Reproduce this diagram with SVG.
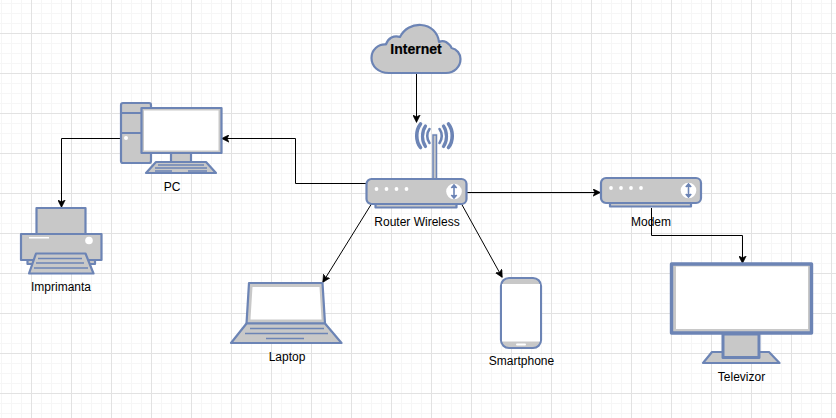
<svg xmlns="http://www.w3.org/2000/svg" width="836" height="418" viewBox="0 0 836 418">
<style>
.s{fill:#c8c8c8;stroke:#6c84b5;stroke-width:2.2;stroke-linejoin:round}
.w{fill:#fff;stroke:none}
.l{fill:none;stroke:#6c84b5;stroke-width:1.6}
.d{fill:#fff;stroke:none}
.c{fill:none;stroke:#000;stroke-width:1}
text{font-family:"Liberation Sans",Arial,sans-serif;font-size:12px;fill:#000;text-anchor:middle}
</style>
<defs>
<pattern id="minor" width="10" height="10" patternUnits="userSpaceOnUse" x="1" y="3">
<path d="M0.5 0V10M0 0.5H10" fill="none" stroke="#f6f6f6" stroke-width="1"/>
</pattern>
<pattern id="major" width="40" height="40" patternUnits="userSpaceOnUse" x="31" y="33">
<path d="M0.5 0V40M0 0.5H40" fill="none" stroke="#e2e2e2" stroke-width="1"/>
</pattern>
<marker id="a" markerWidth="8" markerHeight="8" refX="7" refY="4" orient="auto" markerUnits="userSpaceOnUse">
<path d="M0 0.3L7.5 4L0 7.7L1.8 4Z" fill="#000" stroke="#000" stroke-width="0.6"/>
</marker>
<g id="box">
<rect class="s" x="9.5" y="20" width="81" height="9"/>
<rect class="s" x="0.5" y="0.500" width="100" height="25" rx="5"/>
<circle class="d" cx="10.500" cy="10.500" r="1.900"/><circle class="d" cx="20.500" cy="10.500" r="1.900"/><circle class="d" cx="30.500" cy="10.500" r="1.900"/><circle class="d" cx="40.500" cy="10.500" r="1.900"/>
<circle class="d" cx="88" cy="13" r="7.800"/>
<path d="M88 6.500V19.500M85.300 9.500L88 6.500L90.700 9.500M85.300 16.500L88 19.500L90.700 16.500" fill="#6c84b5" stroke="#6c84b5" stroke-width="1.600"/>
</g>
</defs>
<rect width="836" height="418" fill="#fff"/>
<rect width="836" height="418" fill="url(#minor)"/>
<rect width="836" height="418" fill="url(#major)"/>

<g id="connectors">
<path class="c" marker-end="url(#a)" d="M416.500 73V122"/>
<path class="c" marker-end="url(#a)" d="M366 183.500H295.500V138.500H222"/>
<path class="c" marker-end="url(#a)" d="M121 138.500H61.500V207"/>
<path class="c" marker-end="url(#a)" d="M466 192.500H600"/>
<path class="c" marker-end="url(#a)" d="M372 203L323 282"/>
<path class="c" marker-end="url(#a)" d="M461 203L502 277"/>
<path class="c" marker-end="url(#a)" d="M651.500 208V235.500H742.500V263"/>
</g>

<g id="internet">
<path class="s" d="M389 73C378 73 371.500 66 371.500 58C371.500 50 378 44 386 44.500C388 38 394 35 400 37C404 29 412 24.500 421 25C431 25.500 438 33 439 42C441 41 444 41 446 42C449 44 451 46 451.500 48C457 49 460.500 54 460.500 59C460.500 67 454 73 446 73Z"/>
<text x="416" y="54" style="font-size:14px;font-weight:bold;stroke:#000;stroke-width:0.2">Internet</text>
</g>

<g id="router">
<rect x="433" y="135" width="3.500" height="44" fill="#c8c8c8" stroke="#6c84b5" stroke-width="1.500"/>
<g fill="none" stroke="#6c84b5" stroke-linecap="round">
<path d="M429.500 129C426.500 133 426.500 139 429.500 143M439.500 129C442.500 133 442.500 139 439.500 143" stroke-width="2.600"/>
<path d="M425.500 126C421.500 132 421.500 141 425.500 146.500M443.500 126C447.500 132 447.500 141 443.500 146.500" stroke-width="3.200"/>
<path d="M420.500 124C415.500 130.500 415.500 141 420.500 147.500M448.500 124C453.500 130.500 453.500 141 448.500 147.500" stroke-width="3.600"/>
</g>
<use href="#box" x="366" y="178.500"/>
<text x="417" y="226">Router Wireless</text>
</g>

<g id="pc">
<rect class="s" x="121" y="103" width="30" height="60" rx="2"/>
<path class="l" d="M121 113H151M121 133H151" style="stroke-width:2"/>
<circle class="d" cx="126" cy="138" r="2"/>
<rect class="s" x="171" y="153" width="20" height="9"/>
<path class="s" d="M156 162H206L216 173H146Z"/>
<path class="l" d="M158 165H204M155 168H207M155 171H172M188 171H207" style="stroke-width:1.400"/>
<rect class="s" x="141.500" y="108" width="80" height="45"/>
<rect class="w" x="144" y="110.500" width="74.500" height="40"/>
<text x="172" y="191">PC</text>
</g>

<g id="printer">
<rect class="s" x="36.500" y="208" width="49" height="26"/>
<path class="s" d="M27.500 258H95V264H27.500Z"/>
<rect class="s" x="21" y="234" width="80.500" height="26"/>
<rect class="d" x="29" y="237" width="20" height="1.500"/>
<circle class="d" cx="89" cy="240.500" r="3.800"/>
<path class="s" d="M36 253.500H85.500L93.500 273.500H29Z"/>
<path class="l" d="M38 258.500H82M36 263H84M34 268H88"/>
<text x="61" y="291">Imprimanta</text>
</g>

<g id="laptop">
<path class="s" d="M249 283H322.500L325 323.500H246.500Z"/>
<path class="w" d="M252.500 287H319.500L321.500 319.500H250.500Z"/>
<path class="s" d="M246.500 323.500H325L341.500 343H231Z"/>
<path class="l" d="M250 328.500H324M245 333.500H328M266 338.500H304"/>
<text x="287" y="361">Laptop</text>
</g>

<g id="smartphone">
<rect class="s" x="501" y="278" width="40" height="70" rx="8"/>
<rect class="w" x="502" y="284" width="38" height="57.500"/>
<rect class="d" x="516" y="343.500" width="10" height="2" rx="1"/>
<text x="521.500" y="365">Smartphone</text>
</g>

<g id="modem">
<use href="#box" x="600.500" y="177.500"/>
<text x="651" y="226">Modem</text>
</g>

<g id="televizor">
<rect class="s" x="671.500" y="264" width="140" height="69" style="stroke-width:3.400"/>
<rect class="w" x="676" y="266.500" width="132" height="62.500"/>
<path class="s" d="M712 352H769L779.500 363H703Z"/>
<rect class="s" x="723" y="334" width="36" height="23.500" style="stroke-width:3"/>
<text x="741.500" y="381">Televizor</text>
</g>
</svg>
